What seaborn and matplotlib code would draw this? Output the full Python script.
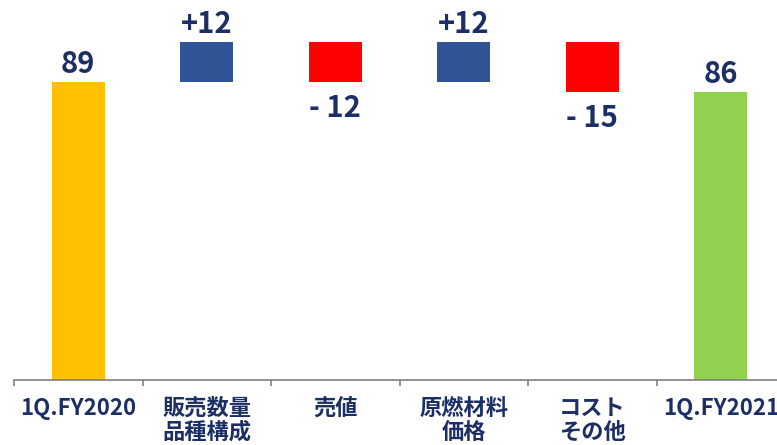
import numpy as np
import pandas as pd
import seaborn as sns
import matplotlib.pyplot as plt

# waterfall data (億円)
categories = ['1Q.FY2020', '販売数量\n品種構成', '売値', '原燃材料\n価格', 'コスト\nその他', '1Q.FY2021']
changes = [89, 12, -12, 12, -15, 86]
value_labels = ['89', '+12', '- 12', '+12', '- 15', '86']
bar_colors = ['#FFC000', '#2F5597', '#FF0000', '#2F5597', '#FF0000', '#92D050']

NAVY = '#1B2F66'


def build_frame():
    """ Turn the changes into bottom / top values for a waterfall. """
    bottoms, tops = [], []
    running = 0
    for i, v in enumerate(changes):
        if i == 0 or i == len(changes) - 1:
            bottoms.append(0)
            tops.append(v)
            running = v
        else:
            new = running + v
            bottoms.append(min(running, new))
            tops.append(max(running, new))
            running = new
    return pd.DataFrame({'category': categories, 'bottom': bottoms, 'top': tops,
                         'change': changes, 'label': value_labels})


def draw(df):
    sns.set_style('white')
    plt.rcParams['font.family'] = ['Noto Sans CJK JP', 'DejaVu Sans']

    fig = plt.figure(figsize=(7.77, 4.45), dpi=100)
    ax = fig.add_axes([14 / 777, 65 / 445, 771 / 777, 380 / 445])

    # full-height coloured bars, then white bars hide the part under each step
    sns.barplot(data=df, x='category', y='top', hue='category', palette=bar_colors,
                saturation=1, width=0.41, linewidth=0, legend=False, ax=ax)
    sns.barplot(data=df, x='category', y='bottom', color='white', saturation=1,
                width=0.43, linewidth=0, ax=ax)

    ax.set_ylim(0, 113.5)
    ax.set_xlim(-0.5, 5.5)
    ax.set_xlabel('')
    ax.set_ylabel('')
    ax.set_yticks([])

    for s in ['top', 'right', 'left']:
        ax.spines[s].set_visible(False)
    ax.spines['bottom'].set_color('#7F7F7F')
    ax.spines['bottom'].set_linewidth(1.2)

    ax.set_xticks(range(len(categories)))
    ax.set_xticklabels(categories, fontsize=16, fontweight='bold', color=NAVY,
                       linespacing=1.05, va='top')
    ax.set_xticks(np.arange(-0.5, len(categories), 1), minor=True)
    ax.tick_params(axis='x', which='major', bottom=True, length=0, pad=12)
    ax.tick_params(axis='x', which='minor', bottom=True, length=4, width=1.2,
                   color='#7F7F7F', direction='out')

    # value labels: above rising / total bars, below falling bars
    for i, row in df.iterrows():
        if row['change'] < 0:
            ax.annotate(row['label'], (i, row['bottom']), xytext=(0, -8),
                        textcoords='offset points', ha='center', va='top',
                        fontsize=21, fontweight='bold', color=NAVY)
        else:
            ax.annotate(row['label'], (i, row['top']), xytext=(0, 2),
                        textcoords='offset points', ha='center', va='bottom',
                        fontsize=21, fontweight='bold', color=NAVY)

    fig.savefig('out.png', dpi=100)


def main():
    df = build_frame()
    draw(df)


if __name__ == "__main__":
    main()
